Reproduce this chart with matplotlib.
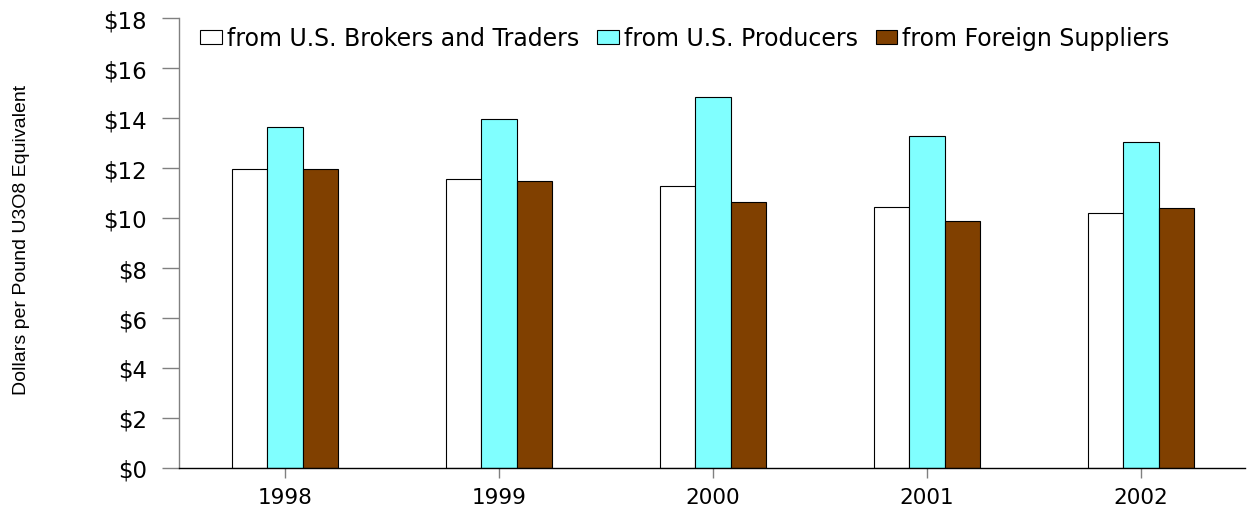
import matplotlib
matplotlib.use("Agg")
import matplotlib.pyplot as plt
import numpy as np

# data
years = ["1998", "1999", "2000", "2001", "2002"]
brokers = [11.96, 11.56, 11.29, 10.44, 10.22]
producers = [13.63, 13.95, 14.83, 13.28, 13.04]
foreign = [11.96, 11.48, 10.66, 9.87, 10.39]
series_names = ["from U.S. Brokers and Traders", "from U.S. Producers", "from Foreign Suppliers"]
y_ticks = [0, 2, 4, 6, 8, 10, 12, 14, 16, 18]

colors = ["#ffffff", "#80ffff", "#804000"]

# wider face, the reference text is stretched horizontally
plt.rcParams['font.family'] = ['DejaVu Sans']

W, H = 1247, 510
fig = plt.figure(figsize=(W / 100, H / 100), dpi=100)
ax = fig.add_axes([179 / W, 41 / H, (1245 - 179) / W, (469 - 19) / H])

x = np.arange(len(years))
bw = 0.166
for i, (vals, name) in enumerate(zip([brokers, producers, foreign], series_names)):
    ax.bar(x + (i - 1) * bw, vals, bw, color=colors[i], edgecolor="black",
           linewidth=0.8, label=name)

ax.set_xlim(-0.495, 4.486)
ax.set_ylim(0, 18)
ax.set_yticks(y_ticks)
ax.set_yticklabels(["$%d" % v for v in y_ticks], fontsize=16.5)
ax.set_xticks(x)
ax.set_xticklabels(years, fontsize=15.5)

for s in ["top", "right"]:
    ax.spines[s].set_visible(False)
ax.spines["left"].set_color("#808080")
ax.spines["left"].set_linewidth(1.0)
ax.spines["bottom"].set_color("black")
ax.spines["bottom"].set_linewidth(1.0)
ax.tick_params(axis="y", length=12, width=1.0, color="#808080", pad=11)
ax.tick_params(axis="x", length=7.5, width=1.0, color="#808080", pad=6)

ax.legend(loc="center left", bbox_to_anchor=(0.0197, 0.955), ncol=3, frameon=False,
          fontsize=17, handlelength=0.93, handleheight=0.55, handletextpad=0.2,
          columnspacing=0.76, borderpad=0, borderaxespad=0)

# narrower face for the axis title
fig.text(22 / W, (H - 240) / H, "Dollars per Pound U3O8 Equivalent", rotation=90,
         ha="center", va="center", fontsize=14,
         family=['Liberation Sans', 'DejaVu Sans'])

fig.savefig("out.png", dpi=100)
